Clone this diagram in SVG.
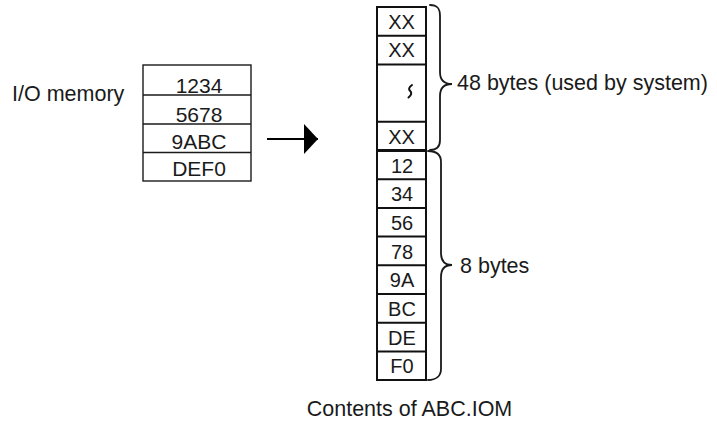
<svg xmlns="http://www.w3.org/2000/svg" width="717" height="421" viewBox="0 0 717 421">
<style>
text{font-family:"Liberation Sans",Arial,sans-serif;fill:#1a1a1a}
.lbl{font-size:21.5px}
.cell{font-size:21px;text-anchor:middle}
.rc{font-size:20px;text-anchor:middle}
.thin{fill:#fff;stroke:#1a1a1a;stroke-width:1.4}
.col{fill:#fff;stroke:#111;stroke-width:2}
.brace{fill:none;stroke:#1a1a1a;stroke-width:1.8;stroke-linecap:round}
</style>
<defs>
<marker id="ah" markerWidth="14" markerHeight="30" refX="14" refY="15" orient="auto" markerUnits="userSpaceOnUse">
<path d="M0,0 L14,15 L0,30 Z" fill="#000"/>
</marker>
</defs>
<g id="io-label"><text class="lbl" x="12" y="101">I/O memory</text></g>
<g id="io-memory">
<rect class="thin" x="143" y="65" width="108" height="116"/>
<line class="thin" x1="143" y1="95" x2="251" y2="95"/>
<line class="thin" x1="143" y1="124" x2="251" y2="124"/>
<line class="thin" x1="143" y1="152.5" x2="251" y2="152.5"/>
<text class="cell" x="199" y="93">1234</text>
<text class="cell" x="199" y="121.5">5678</text>
<text class="cell" x="199" y="148.5">9ABC</text>
<text class="cell" x="199" y="175.5">DEF0</text>
</g>
<g id="connectors">
<line x1="267" y1="139" x2="318" y2="139" stroke="#000" stroke-width="2" marker-end="url(#ah)"/>
</g>
<g id="abc-iom">
<rect class="col" x="377" y="7" width="49" height="373"/>
<line class="col" x1="377" y1="35.7" x2="426" y2="35.7"/>
<line class="col" x1="377" y1="64.4" x2="426" y2="64.4"/>
<line class="col" x1="377" y1="121.8" x2="426" y2="121.8"/>
<line x1="377" y1="150.5" x2="426" y2="150.5" stroke="#111" stroke-width="3"/>
<line class="col" x1="377" y1="179.2" x2="426" y2="179.2"/>
<line class="col" x1="377" y1="207.9" x2="426" y2="207.9"/>
<line class="col" x1="377" y1="236.6" x2="426" y2="236.6"/>
<line class="col" x1="377" y1="265.3" x2="426" y2="265.3"/>
<line class="col" x1="377" y1="294" x2="426" y2="294"/>
<line class="col" x1="377" y1="322.7" x2="426" y2="322.7"/>
<line class="col" x1="377" y1="351.4" x2="426" y2="351.4"/>
<text class="rc" x="401.5" y="28.5">XX</text>
<text class="rc" x="401.5" y="57.2">XX</text>
<path d="M412,85 C408.5,87.5 408.5,89.5 410.2,91 C412,92.7 411.5,95 408.5,97.5" fill="none" stroke="#111" stroke-width="2" stroke-linecap="round"/>
<text class="rc" x="401.5" y="143.5">XX</text>
<text class="rc" x="402" y="172.5">12</text>
<text class="rc" x="402" y="201.2">34</text>
<text class="rc" x="402" y="229.9">56</text>
<text class="rc" x="402" y="258.6">78</text>
<text class="rc" x="402" y="287.3">9A</text>
<text class="rc" x="402" y="316">BC</text>
<text class="rc" x="402" y="344.7">DE</text>
<text class="rc" x="402" y="373.4">F0</text>
</g>
<g id="brace-system">
<path class="brace" d="M430,5 C437,5 440,8 440,16 L440,72 C440,80 444,84 452,84 C444,84 440,88 440,96 L440,140 C440,147 437,150 430,150"/>
<text class="lbl" x="457" y="90">48 bytes (used by system)</text>
</g>
<g id="brace-data">
<path class="brace" d="M428,151 C436,151 441,154 441,162 L441,253 C441,261 445,265 452,265 C445,265 441,269 441,277 L441,369 C441,376 436,380 428,380"/>
<text class="lbl" x="460" y="273">8 bytes</text>
</g>
<g id="caption"><text class="lbl" x="409.5" y="416" text-anchor="middle">Contents of ABC.IOM</text></g>
</svg>
